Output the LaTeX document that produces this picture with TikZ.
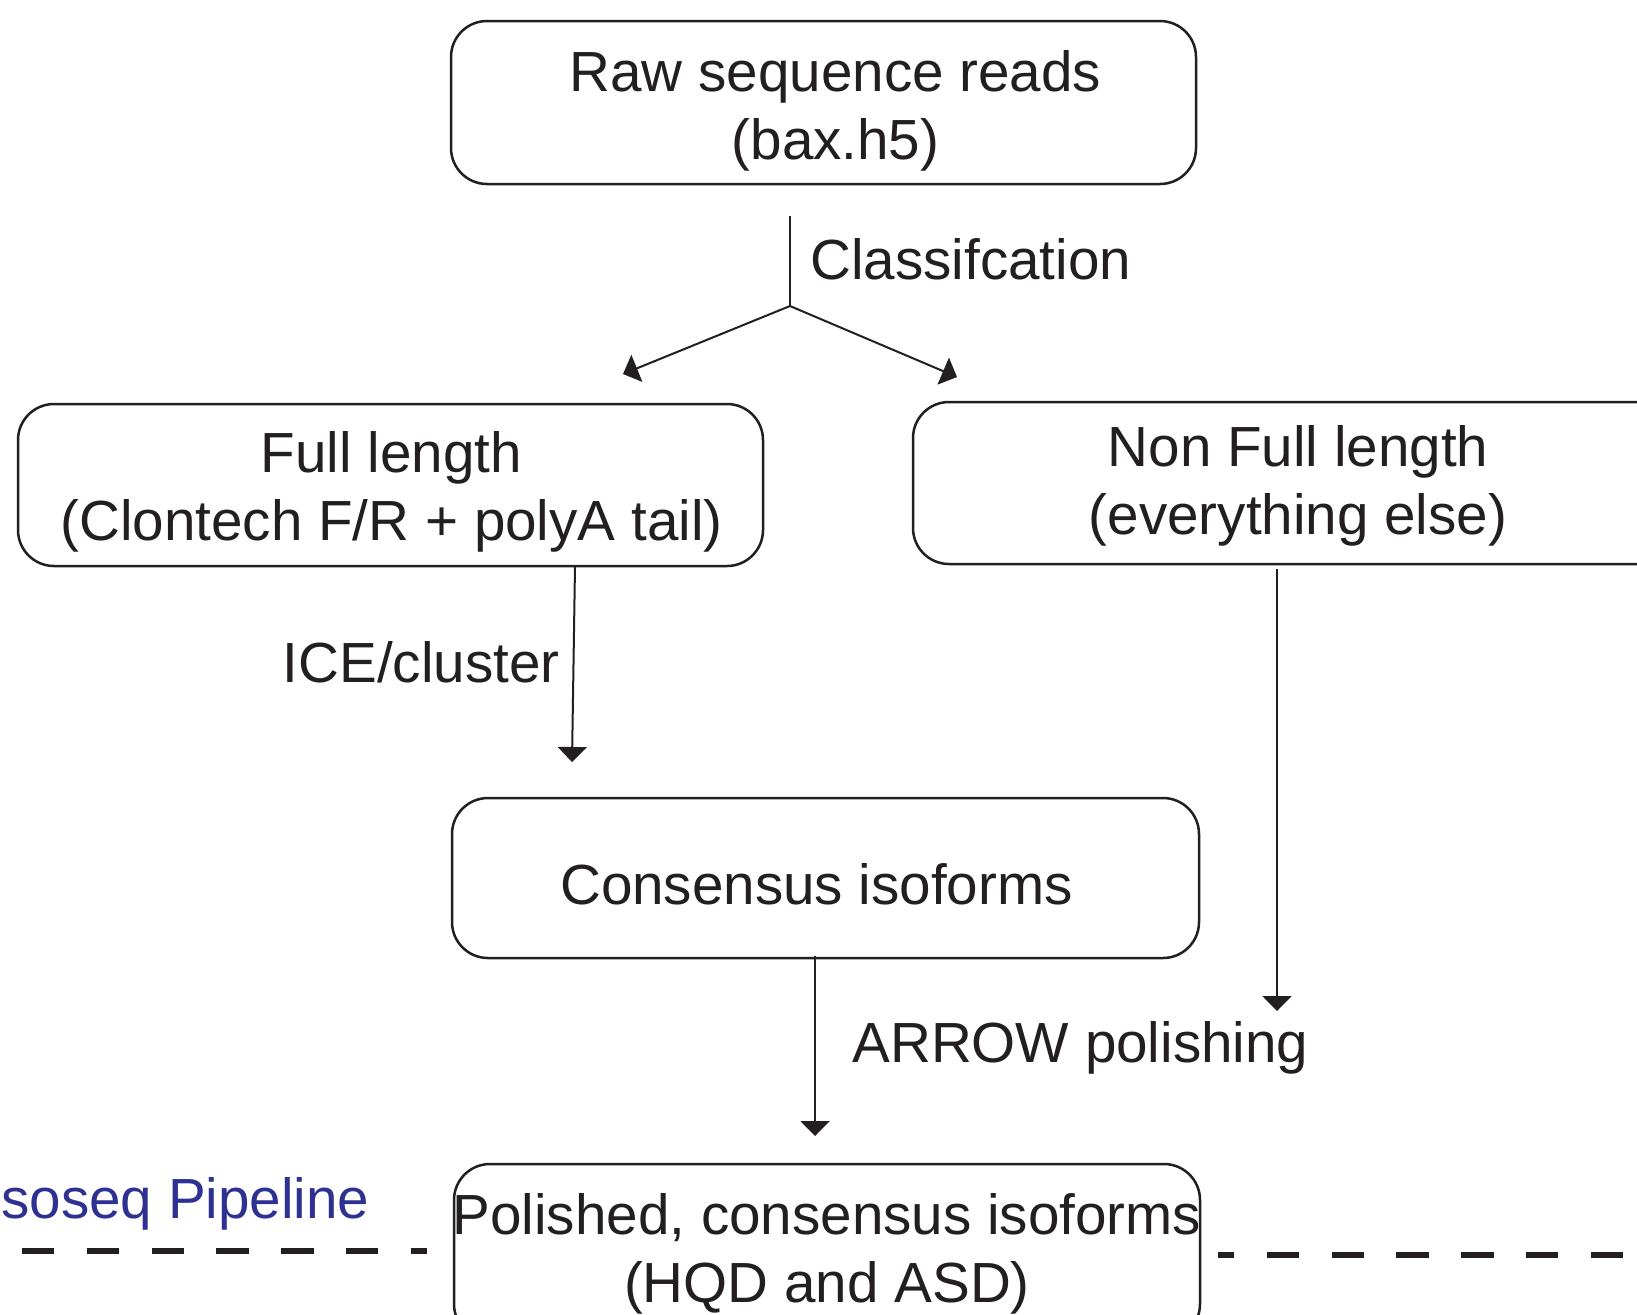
\documentclass[tikz,border=0pt]{standalone}
\usepackage{fontspec}
\setmainfont{Liberation Sans}
\usetikzlibrary{arrows.meta}
\definecolor{ink}{RGB}{35,31,32}
\definecolor{pipeblue}{RGB}{46,49,146}

\begin{document}
\begin{tikzpicture}[x=0.5pt,y=-0.5pt,
  txt/.style={font=\fontsize{28.3}{34}\selectfont, text=ink},
  box/.style={draw=ink, line width=1.25pt, rounded corners=18pt, inner sep=0pt},
  btxt/.style={txt, align=center, inner sep=0pt},
  lbl/.style={txt, inner sep=0pt},
  conn/.style={draw=ink, line width=1pt},
  arr/.style={conn, -{Triangle[length=7.5pt,width=14.5pt]}},
  sep/.style={draw=ink, line width=2.6pt, dash pattern=on 16.2pt off 16.2pt}
]
\useasboundingbox (0,0) rectangle (1637,1314);
\clip (0,0) rectangle (1637,1314);
\fill[white] (0,0) rectangle (1637,1314);

% process boxes
\node[box, minimum width=372.5pt, minimum height=81.5pt] (raw) at (823.5,102.5) {};
\node[box, minimum width=372.5pt, minimum height=81pt] (full) at (390.5,485) {};
\node[box, minimum width=384pt, minimum height=81pt] (nonfull) at (1297,483) {};
\node[box, minimum width=373.5pt, minimum height=80pt] (cons) at (825.5,878) {};
\node[box, minimum width=373pt, minimum height=88pt] (pol) at (827,1252) {};

% box texts
\node[btxt, xshift=6pt, yshift=-4pt] (rawt) at (raw.center)
  {Raw sequence reads\\(bax.h5)};
\node[btxt, xshift=0.5pt, yshift=-3.5pt] (fullt) at (full.center)
  {Full length\\(Clontech F/R + polyA tail)};
\node[btxt, xshift=0.5pt, yshift=-1.5pt] (nonfullt) at (nonfull.center)
  {Non Full length\\(everything else)};
\node[btxt, xshift=-4.5pt, yshift=-3pt] (const) at (cons.center)
  {Consensus isoforms};
\node[btxt, yshift=-1pt] (polt) at (pol.center)
  {\makebox[0pt]{Polished, consensus isoforms}\\(HQD and ASD)};

% connector end points
\coordinate (cstart) at (790,216);
\coordinate (fork) at (790,306);
\coordinate (tipL) at (623,374);
\coordinate (tipR) at (957,377);
\coordinate (iceS) at (575,566);
\coordinate (iceE) at (572,762);
\coordinate (nfS) at (1277,569);
\coordinate (nfE) at (1277,1011);
\coordinate (consS) at (815,956);
\coordinate (consE) at (815,1136);

% connectors
\draw[conn] (cstart) -- (fork);
\draw[arr] (fork) -- (tipL);
\draw[arr] (fork) -- (tipR);
\draw[arr] (iceS) -- (iceE);
\draw[arr] (nfS) -- (nfE);
\draw[arr] (consS) -- (consE);

% step labels
\node[lbl, anchor=base west] (lclass) at (810,279) {Classifcation};
\node[lbl, anchor=base east] (lice) at (560,682) {ICE/cluster};
\node[lbl, anchor=base west] (larrow) at (852,1062) {ARROW polishing};

% pipeline boundary
\node[lbl, anchor=base west, text=pipeblue] (lpipe) at (1,1218) {soseq Pipeline};
\coordinate (sepL1) at (22,1251);
\coordinate (sepL2) at (427,1251);
\coordinate (sepR1) at (1218,1255);
\coordinate (sepR2) at (1623,1255);
\draw[sep] (sepL1) -- (sepL2);
\draw[sep, dash phase=8pt] (sepR1) -- (sepR2);
\end{tikzpicture}
\end{document}
